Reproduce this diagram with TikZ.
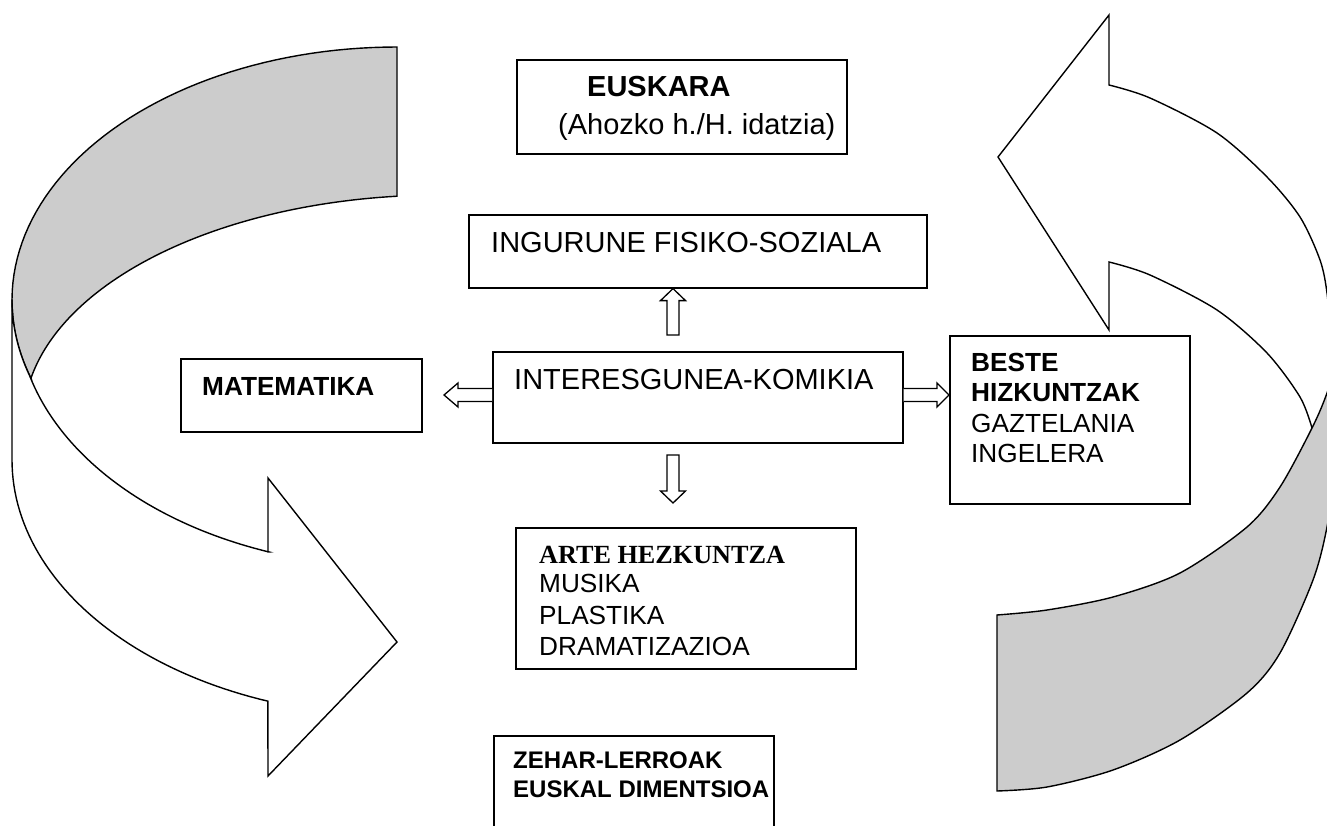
\documentclass[tikz,border=0pt]{standalone}
\usepackage{fontspec}
\setmainfont{Liberation Sans}
\newfontfamily\timesf{Liberation Serif}
\usetikzlibrary{calc}
\definecolor{band}{RGB}{204,204,204}
\begin{document}
\begin{tikzpicture}[x=1pt,y=-1pt,
  box/.style={draw, line width=1.6pt, rectangle, anchor=north west, inner sep=0pt},
  txl/.style={anchor=base west, inner sep=0pt, font=\fontsize{29}{34}\selectfont},
  txs/.style={anchor=base west, inner sep=0pt, font=\fontsize{26.2}{30}\selectfont},
  txz/.style={anchor=base west, inner sep=0pt, font=\fontsize{24}{30}\selectfont\bfseries},
  ribbon/.style={draw, line width=1.4pt, line join=miter},
  blk/.style={draw, fill=white, line width=1.3pt, line join=miter}]
\useasboundingbox (0,0) rectangle (1327,826);
\clip (0,0) rectangle (1327,826);

% ---- left curved arrow ----
\filldraw[ribbon, fill=band]
  plot[domain=90:198, samples=60, variable=\t] ({397+385*cos(\t)},{300-253*sin(\t)})
  -- plot[domain=169.25:95.93, samples=60, variable=\t] ({440+416.3*cos(\t)},{420-225*sin(\t)})
  -- cycle;
\filldraw[ribbon, fill=white]
  (12,300) -- (12,460)
  -- plot[domain=0:70.4, samples=50, variable=\s] ({397-385*cos(\s)},{460+256*sin(\s)})
  -- (268,776) -- (397,642) -- (268,478) -- (268,552)
  -- plot[domain=70.3:15.34, samples=50, variable=\s] ({397-380*cos(\s)},{310+257*sin(\s)})
  -- plot[domain=198:180, samples=20, variable=\t] ({397+385*cos(\t)},{300-253*sin(\t)})
  -- cycle;

% ---- right curved arrow ----
\filldraw[ribbon, fill=white]
  (1109,85) -- (1109,15) -- (998,157) -- (1109,330) -- (1109,262)
  -- plot[smooth] coordinates {(1109,262) (1150,275) (1217,310) (1267,353) (1300,397) (1312,428)}
  -- (1360,430) -- (1360,340)
  -- plot[smooth] coordinates {(1331,340) (1327,293) (1320,260) (1300,217) (1267,177) (1217,133) (1150,98) (1109,85)}
  -- cycle;
\filldraw[ribbon, fill=band]
  plot[smooth] coordinates {(997,615) (1047,610) (1113,597) (1180,573) (1247,527) (1280,487) (1312,428) (1327,393) (1340,350)}
  -- (1370,350) -- (1370,460)
  -- plot[smooth] coordinates {(1337,460) (1327,527) (1313,580) (1280,653) (1247,693) (1180,740) (1113,770) (1047,787) (997,791)}
  -- cycle;

% ---- boxes ----
\node[box, minimum width=330pt, minimum height=94pt] (eus) at (516,59) {};
\node[box, minimum width=458pt, minimum height=73pt] (ing) at (468,214) {};
\node[box, minimum width=410pt, minimum height=91pt] (inter) at (492,351) {};
\node[box, minimum width=241pt, minimum height=73pt] (mat) at (180,358) {};
\node[box, minimum width=240pt, minimum height=168pt] (beste) at (949,335) {};
\node[box, minimum width=340pt, minimum height=141pt] (arte) at (515,527) {};
\node[box, minimum width=280pt, minimum height=130pt] (zehar) at (493,735) {};

% ---- texts ----
\node[txl] (t1) at (587,97) {\bfseries EUSKARA};
\node[txl] (t2) at (558,135) {(Ahozko h./H. idatzia)};
\node[txl] (t3) at (491,253) {INGURUNE FISIKO-SOZIALA};
\node[txl] (t4) at (514,389) {INTERESGUNEA-KOMIKIA};
\node[txs] (t5) at (202,395) {\bfseries MATEMATIKA};
\node[txs] (t6) at (971,371) {\bfseries BESTE};
\node[txs] (t7) at (971,401) {\bfseries HIZKUNTZAK};
\node[txs] (t8) at (971,432) {GAZTELANIA};
\node[txs] (t9) at (971,462) {INGELERA};
\node[txs] (t10) at (539,563) {\timesf\bfseries ARTE HEZKUNTZA};
\node[txs] (t11) at (539,592) {MUSIKA};
\node[txs] (t12) at (539,624) {PLASTIKA};
\node[txs] (t13) at (539,655) {DRAMATIZAZIOA};
\node[txz] (t14) at (513,768) {ZEHAR-LERROAK};
\node[txz] (t15) at (513,797) {EUSKAL DIMENTSIOA};

% ---- block arrows ----
\coordinate (uB) at (673,335);
\coordinate (uT) at (uB |- ing.south);
\filldraw[blk] ($(uB)+(-6,0)$) -- ($(uT)+(-6,12)$) -- ($(uT)+(-12.5,12)$) -- (uT)
  -- ($(uT)+(12.5,12)$) -- ($(uT)+(6,12)$) -- ($(uB)+(6,0)$) -- cycle;

\coordinate (dB) at (673,455);
\coordinate (dT) at (673,503);
\filldraw[blk] ($(dB)+(-6,0)$) -- ($(dT)+(-6,-12)$) -- ($(dT)+(-12.5,-12)$) -- (dT)
  -- ($(dT)+(12.5,-12)$) -- ($(dT)+(6,-12)$) -- ($(dB)+(6,0)$) -- cycle;

\coordinate (hy) at (0,395);
\coordinate (lB) at (inter.west |- hy);
\coordinate (lT) at (444,395);
\filldraw[blk] ($(lB)+(0,-6.5)$) -- ($(lT)+(14,-6.5)$) -- ($(lT)+(14,-12)$) -- (lT)
  -- ($(lT)+(14,12)$) -- ($(lT)+(14,6.5)$) -- ($(lB)+(0,6.5)$);

\coordinate (rB) at (inter.east |- hy);
\coordinate (rT) at (beste.west |- hy);
\filldraw[blk] ($(rB)+(0,-6.5)$) -- ($(rT)+(-12,-6.5)$) -- ($(rT)+(-12,-12)$) -- (rT)
  -- ($(rT)+(-12,12)$) -- ($(rT)+(-12,6.5)$) -- ($(rB)+(0,6.5)$);
\end{tikzpicture}
\end{document}
